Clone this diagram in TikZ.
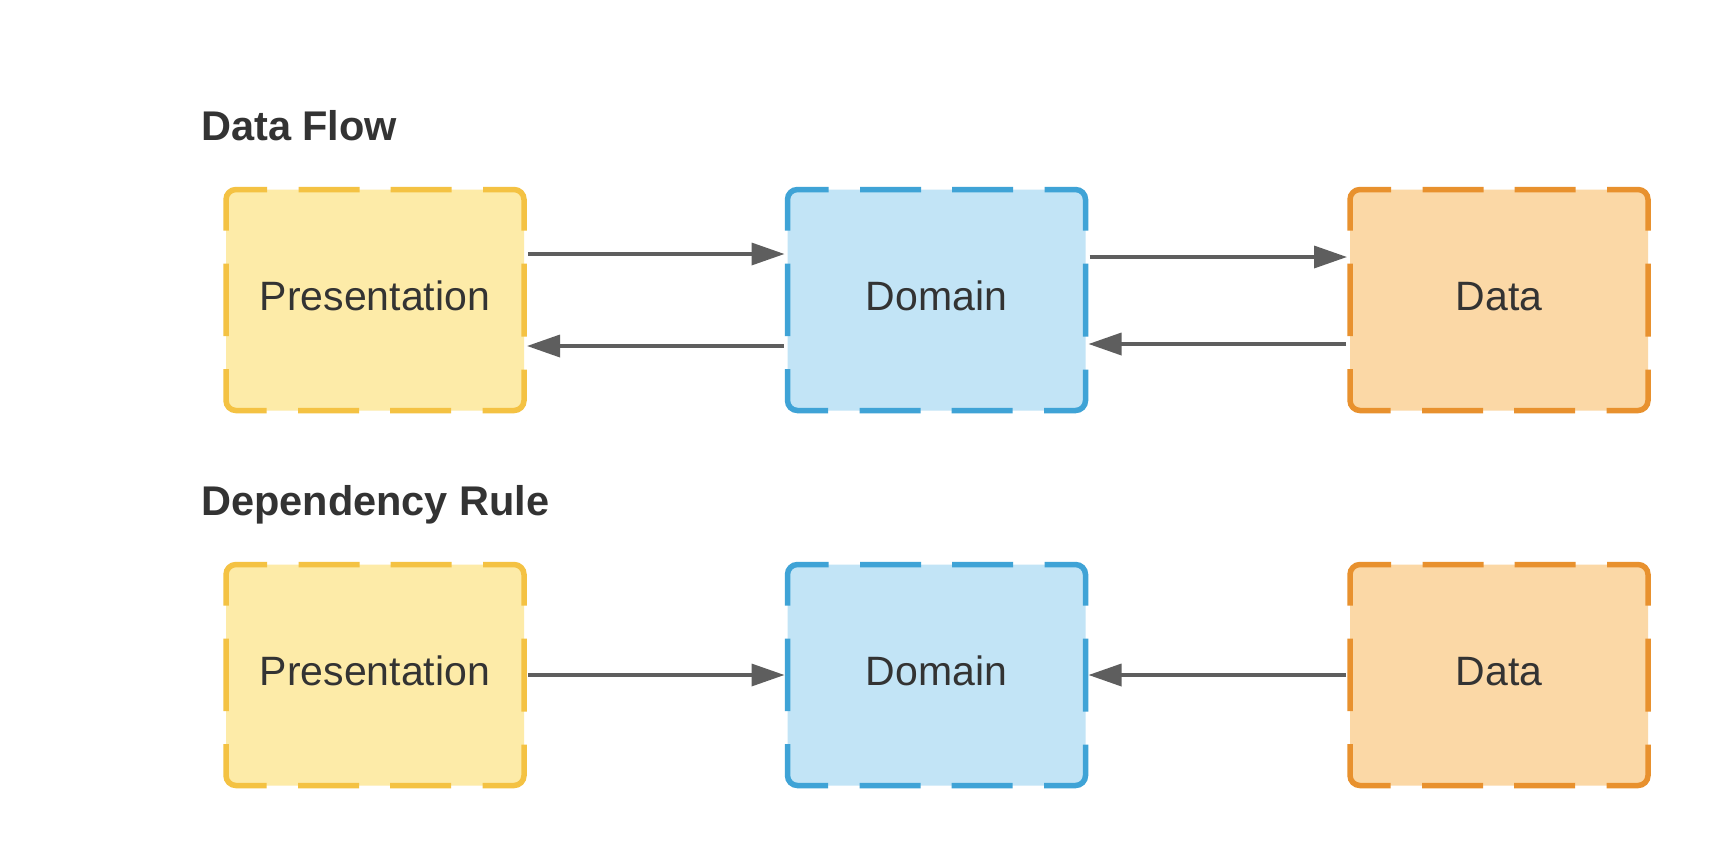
\documentclass[tikz,border=0pt]{standalone}
\usepackage{fontspec}
\setmainfont{Liberation Sans}
\usetikzlibrary{arrows.meta}

\definecolor{ink}{HTML}{333333}
\definecolor{arrowgrey}{HTML}{5E5E5E}
\definecolor{presfill}{HTML}{FDEBA8}
\definecolor{presline}{HTML}{F4C243}
\definecolor{domfill}{HTML}{C2E4F6}
\definecolor{domline}{HTML}{3FA3D6}
\definecolor{datafill}{HTML}{FBD8A6}
\definecolor{dataline}{HTML}{E8912E}

\tikzset{
  layer/.style={rectangle, rounded corners=10pt, minimum width=298pt, minimum height=221pt,
    inner sep=0pt, outer sep=0pt, text=ink, font=\fontsize{41}{49}\selectfont,
    text height=29.4pt, text depth=8pt},
  layerline/.style={line width=5.5pt, rounded corners=10pt,
    dash pattern=on 36.5pt off 33pt on 77.7pt off 31.5pt on 61pt off 31pt on 61pt off 31.5pt
      on 77.7pt off 33pt on 73pt off 33pt on 77.7pt off 31.5pt on 61pt off 31pt on 61pt off 31.5pt
      on 77.7pt off 33pt on 36.5pt},
  heading/.style={anchor=base west, inner sep=0pt, text=ink, font=\fontsize{41.5}{49}\selectfont\bfseries},
  flow/.style={draw=arrowgrey, line width=3.5pt, -{Triangle[length=33pt,width=22pt]},
    shorten <=4pt, shorten >=3pt},
}
% dashed outline round a layer box
\newcommand{\layerborder}[2]{\draw[layerline, draw=#2] (#1.west) |- (#1.north east) |- (#1.south west) -- (#1.west);}

\begin{document}
\begin{tikzpicture}[x=1pt, y=-1pt]
\useasboundingbox[fill=white] (0,0) rectangle (1725,863);

% headings
\node[heading] (flowtitle) at (201,140) {Data Flow};
\node[heading] (ruletitle) at (201,515) {Dependency Rule};

% data flow row
\node[layer, fill=presfill] (presA) at (375,300) {Presentation};
\node[layer, fill=domfill] (domA) at (936.5,300) {Domain};
\node[layer, fill=datafill] (dataA) at (1499,300) {Data};

% dependency rule row
\node[layer, fill=presfill] (presB) at (375,675) {Presentation};
\node[layer, fill=domfill] (domB) at (936.5,675) {Domain};
\node[layer, fill=datafill] (dataB) at (1499,675) {Data};

\foreach \n/\c in {presA/presline, domA/domline, dataA/dataline,
                   presB/presline, domB/domline, dataB/dataline} {
  \layerborder{\n}{\c}
}

% connectors
\draw[flow] ([yshift=46pt]presA.east) -- ([yshift=46pt]domA.west);
\draw[flow] ([yshift=-46pt]domA.west) -- ([yshift=-46pt]presA.east);
\draw[flow] ([yshift=43pt]domA.east) -- ([yshift=43pt]dataA.west);
\draw[flow] ([yshift=-44pt]dataA.west) -- ([yshift=-44pt]domA.east);
\draw[flow] (presB.east) -- (domB.west);
\draw[flow] (dataB.west) -- (domB.east);
\end{tikzpicture}
\end{document}
